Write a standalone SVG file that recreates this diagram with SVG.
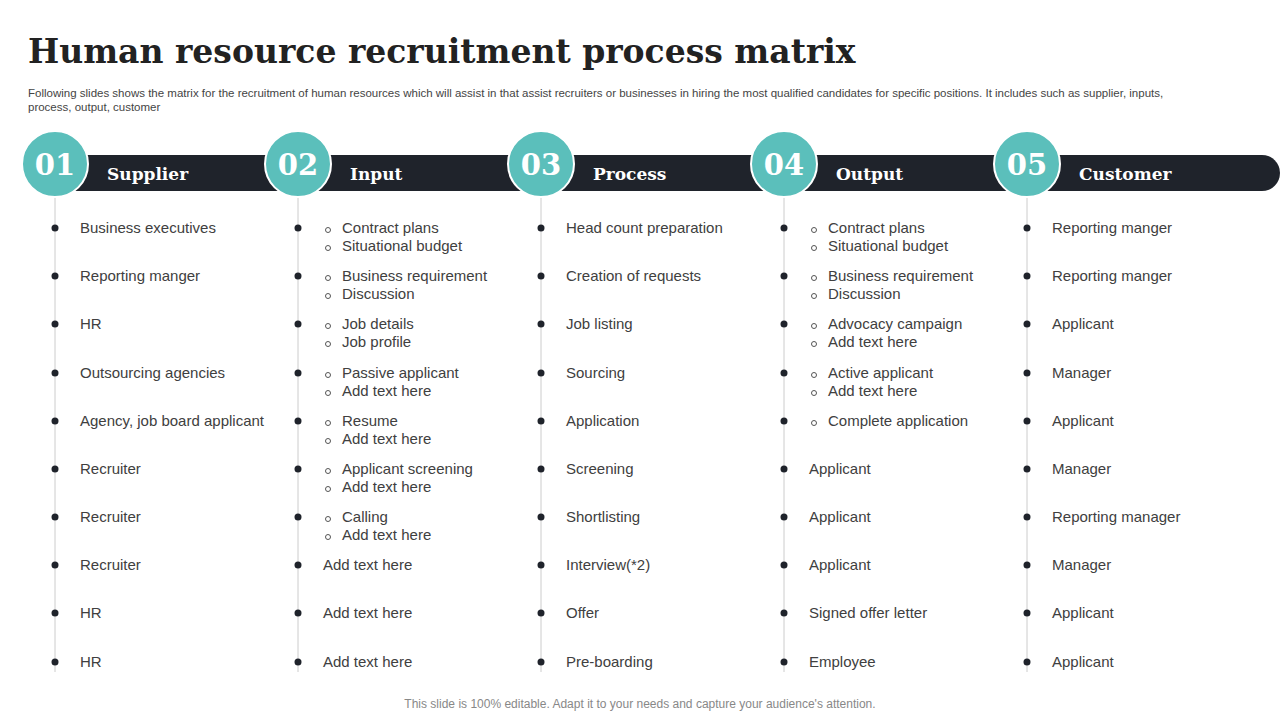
<svg xmlns="http://www.w3.org/2000/svg" width="1280" height="720" viewBox="0 0 1280 720">
<style>
.t{font-family:"DejaVu Serif","Liberation Serif",serif;font-weight:bold;fill:#222}
.h{font-family:"DejaVu Serif","Liberation Serif",serif;font-weight:bold;fill:#fff;font-size:17px}
.n{font-family:"DejaVu Serif","Liberation Serif",serif;font-weight:bold;fill:#fff;font-size:29px}
.s{font-family:"Liberation Sans",Arial,sans-serif;fill:#444;font-size:11.5px}
.i{font-family:"Liberation Sans",Arial,sans-serif;fill:#404040;font-size:15px}
.v{stroke:#ccc;stroke-width:1}
.d{fill:#1f232b}
.o{fill:none;stroke:#555;stroke-width:1}
.c{fill:#5bbfbb;stroke:#fff;stroke-width:2}
</style>
<rect width="1280" height="720" fill="#fff"/>
<text class="t" x="28" y="63" font-size="33">Human resource recruitment process matrix</text>
<text class="s" x="28" y="97">Following slides shows the matrix for the recruitment of human resources which will assist in that assist recruiters or businesses in hiring the most qualified candidates for specific positions. It includes such as supplier, inputs,</text>
<text class="s" x="28" y="111">process, output, customer</text>
<g id="connectors">
<line class="v" x1="55" y1="195" x2="55" y2="672"/>
<line class="v" x1="298" y1="195" x2="298" y2="672"/>
<line class="v" x1="541" y1="195" x2="541" y2="672"/>
<line class="v" x1="784" y1="195" x2="784" y2="672"/>
<line class="v" x1="1027" y1="195" x2="1027" y2="672"/>
</g>
<g id="bar"><path d="M55 155 H1262 A18 18 0 0 1 1262 191 H55 Z" fill="#1f232b"/></g>
<g id="h1"><circle class="c" cx="55" cy="164" r="33"/><text class="n" x="55" y="175" text-anchor="middle">01</text><text class="h" x="107" y="180">Supplier</text></g>
<g id="h2"><circle class="c" cx="298" cy="164" r="33"/><text class="n" x="298" y="175" text-anchor="middle">02</text><text class="h" x="350" y="180">Input</text></g>
<g id="h3"><circle class="c" cx="541" cy="164" r="33"/><text class="n" x="541" y="175" text-anchor="middle">03</text><text class="h" x="593" y="180">Process</text></g>
<g id="h4"><circle class="c" cx="784" cy="164" r="33"/><text class="n" x="784" y="175" text-anchor="middle">04</text><text class="h" x="836" y="180">Output</text></g>
<g id="h5"><circle class="c" cx="1027" cy="164" r="33"/><text class="n" x="1027" y="175" text-anchor="middle">05</text><text class="h" x="1079" y="180">Customer</text></g>
<g id="bullets">
<g class="d">
<circle cx="55" cy="228" r="3.5"/><circle cx="55" cy="276" r="3.5"/><circle cx="55" cy="324" r="3.5"/><circle cx="55" cy="373" r="3.5"/><circle cx="55" cy="421" r="3.5"/><circle cx="55" cy="469" r="3.5"/><circle cx="55" cy="517" r="3.5"/><circle cx="55" cy="565" r="3.5"/><circle cx="55" cy="613" r="3.5"/><circle cx="55" cy="662" r="3.5"/>
<circle cx="298" cy="228" r="3.5"/><circle cx="298" cy="276" r="3.5"/><circle cx="298" cy="324" r="3.5"/><circle cx="298" cy="373" r="3.5"/><circle cx="298" cy="421" r="3.5"/><circle cx="298" cy="469" r="3.5"/><circle cx="298" cy="517" r="3.5"/><circle cx="298" cy="565" r="3.5"/><circle cx="298" cy="613" r="3.5"/><circle cx="298" cy="662" r="3.5"/>
<circle cx="541" cy="228" r="3.5"/><circle cx="541" cy="276" r="3.5"/><circle cx="541" cy="324" r="3.5"/><circle cx="541" cy="373" r="3.5"/><circle cx="541" cy="421" r="3.5"/><circle cx="541" cy="469" r="3.5"/><circle cx="541" cy="517" r="3.5"/><circle cx="541" cy="565" r="3.5"/><circle cx="541" cy="613" r="3.5"/><circle cx="541" cy="662" r="3.5"/>
<circle cx="784" cy="228" r="3.5"/><circle cx="784" cy="276" r="3.5"/><circle cx="784" cy="324" r="3.5"/><circle cx="784" cy="373" r="3.5"/><circle cx="784" cy="421" r="3.5"/><circle cx="784" cy="469" r="3.5"/><circle cx="784" cy="517" r="3.5"/><circle cx="784" cy="565" r="3.5"/><circle cx="784" cy="613" r="3.5"/><circle cx="784" cy="662" r="3.5"/>
<circle cx="1027" cy="228" r="3.5"/><circle cx="1027" cy="276" r="3.5"/><circle cx="1027" cy="324" r="3.5"/><circle cx="1027" cy="373" r="3.5"/><circle cx="1027" cy="421" r="3.5"/><circle cx="1027" cy="469" r="3.5"/><circle cx="1027" cy="517" r="3.5"/><circle cx="1027" cy="565" r="3.5"/><circle cx="1027" cy="613" r="3.5"/><circle cx="1027" cy="662" r="3.5"/>
</g>
<g class="o">
<circle cx="328" cy="230" r="2.5"/><circle cx="328" cy="248" r="2.5"/><circle cx="328" cy="278" r="2.5"/><circle cx="328" cy="296" r="2.5"/><circle cx="328" cy="326" r="2.5"/><circle cx="328" cy="344" r="2.5"/><circle cx="328" cy="375" r="2.5"/><circle cx="328" cy="393" r="2.5"/><circle cx="328" cy="423" r="2.5"/><circle cx="328" cy="441" r="2.5"/><circle cx="328" cy="471" r="2.5"/><circle cx="328" cy="489" r="2.5"/><circle cx="328" cy="519" r="2.5"/><circle cx="328" cy="537" r="2.5"/>
<circle cx="814" cy="230" r="2.5"/><circle cx="814" cy="248" r="2.5"/><circle cx="814" cy="278" r="2.5"/><circle cx="814" cy="296" r="2.5"/><circle cx="814" cy="326" r="2.5"/><circle cx="814" cy="344" r="2.5"/><circle cx="814" cy="375" r="2.5"/><circle cx="814" cy="393" r="2.5"/><circle cx="814" cy="423" r="2.5"/>
</g>
</g>
<g id="col1" class="i">
<text x="80" y="233">Business executives</text><text x="80" y="281">Reporting manger</text><text x="80" y="329">HR</text><text x="80" y="378">Outsourcing agencies</text><text x="80" y="426">Agency, job board applicant</text><text x="80" y="474">Recruiter</text><text x="80" y="522">Recruiter</text><text x="80" y="570">Recruiter</text><text x="80" y="618">HR</text><text x="80" y="667">HR</text>
</g>
<g id="col2" class="i">
<text x="342" y="233">Contract plans</text><text x="342" y="251">Situational budget</text>
<text x="342" y="281">Business requirement</text><text x="342" y="299">Discussion</text>
<text x="342" y="329">Job details</text><text x="342" y="347">Job profile</text>
<text x="342" y="378">Passive applicant</text><text x="342" y="396">Add text here</text>
<text x="342" y="426">Resume</text><text x="342" y="444">Add text here</text>
<text x="342" y="474">Applicant screening</text><text x="342" y="492">Add text here</text>
<text x="342" y="522">Calling</text><text x="342" y="540">Add text here</text>
<text x="323" y="570">Add text here</text><text x="323" y="618">Add text here</text><text x="323" y="667">Add text here</text>
</g>
<g id="col3" class="i">
<text x="566" y="233">Head count preparation</text><text x="566" y="281">Creation of requests</text><text x="566" y="329">Job listing</text><text x="566" y="378">Sourcing</text><text x="566" y="426">Application</text><text x="566" y="474">Screening</text><text x="566" y="522">Shortlisting</text><text x="566" y="570">Interview(*2)</text><text x="566" y="618">Offer</text><text x="566" y="667">Pre-boarding</text>
</g>
<g id="col4" class="i">
<text x="828" y="233">Contract plans</text><text x="828" y="251">Situational budget</text>
<text x="828" y="281">Business requirement</text><text x="828" y="299">Discussion</text>
<text x="828" y="329">Advocacy campaign</text><text x="828" y="347">Add text here</text>
<text x="828" y="378">Active applicant</text><text x="828" y="396">Add text here</text>
<text x="828" y="426">Complete application</text>
<text x="809" y="474">Applicant</text><text x="809" y="522">Applicant</text><text x="809" y="570">Applicant</text><text x="809" y="618">Signed offer letter</text><text x="809" y="667">Employee</text>
</g>
<g id="col5" class="i">
<text x="1052" y="233">Reporting manger</text><text x="1052" y="281">Reporting manger</text><text x="1052" y="329">Applicant</text><text x="1052" y="378">Manager</text><text x="1052" y="426">Applicant</text><text x="1052" y="474">Manager</text><text x="1052" y="522">Reporting manager</text><text x="1052" y="570">Manager</text><text x="1052" y="618">Applicant</text><text x="1052" y="667">Applicant</text>
</g>
<text x="640" y="708" text-anchor="middle" font-family="Liberation Sans, Arial, sans-serif" font-size="12" fill="#888">This slide is 100% editable. Adapt it to your needs and capture your audience's attention.</text>
</svg>
